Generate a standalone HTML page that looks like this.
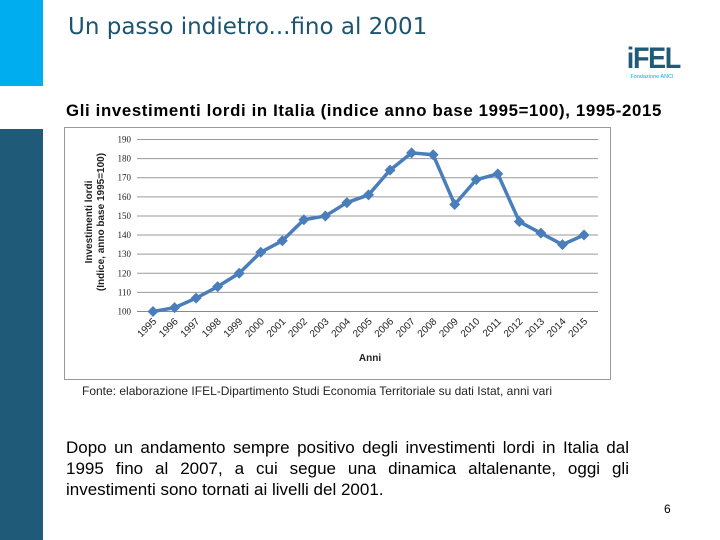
<!DOCTYPE html>
<html><head><meta charset="utf-8"><style>
body{margin:0;width:720px;height:540px;background:#fff;position:relative;overflow:hidden;font-family:"Liberation Sans",sans-serif}
.abs{position:absolute}
.jl{text-align:justify;text-align-last:justify;white-space:nowrap}
</style></head><body>
<div class="abs" style="left:0;top:0;width:43px;height:86px;background:#00aeef"></div>
<div class="abs" style="left:0;top:129px;width:43px;height:411px;background:#1f5a78"></div>
<div class="abs" style="left:68px;top:14px;font-size:23px;color:#1c5570;font-family:'DejaVu Sans',sans-serif">Un passo indietro...fino al 2001</div>
<div class="abs" style="left:624px;top:44px;width:56px;text-align:center;color:#1f5a78">
<div style="font-size:30px;font-weight:bold;line-height:30px;letter-spacing:-1.5px;transform:scaleX(0.9)">iFEL</div>
<div style="font-size:5.5px;color:#00aeef;white-space:nowrap">Fondazione ANCI</div></div>
<div class="abs" style="left:66px;top:101px;font-size:16.8px;letter-spacing:0.65px;font-weight:bold;color:#000;white-space:nowrap">Gli investimenti lordi in Italia (indice anno base 1995=100), 1995-2015</div>
<div class="abs" style="left:64px;top:127px;width:545px;height:251px;border:1px solid #999"></div>
<svg class="abs" style="left:0;top:0" width="720" height="540" id="chart"></svg>
<div class="abs" style="left:82px;top:384px;font-size:12px;color:#222">Fonte: elaborazione IFEL-Dipartimento Studi Economia Territoriale su dati Istat, anni vari</div>
<div class="abs" style="left:66px;top:437px;width:563px;font-size:17px;line-height:21px;color:#000">
<div class="jl">Dopo un andamento sempre positivo degli investimenti lordi in Italia dal</div>
<div class="jl">1995 fino al 2007, a cui segue una dinamica altalenante, oggi gli</div>
<div>investimenti sono tornati ai livelli del 2001.</div></div>
<div class="abs" style="left:664px;top:502px;font-size:12px">6</div>
<script>
const years=["1995","1996","1997","1998","1999","2000","2001","2002","2003","2004","2005","2006","2007","2008","2009","2010","2011","2012","2013","2014","2015"];
const values=[100,102,107,113,120,131,137,148,150,157,161,174,183,182,156,169,172,147,141,135,140];
const yTicks=[100,110,120,130,140,150,160,170,180,190];
const NS="http://www.w3.org/2000/svg",svg=document.getElementById('chart');
const x=i=>153+i*(584-153)/(years.length-1);
const y=v=>311.5-(v-100)*(311.5-139.5)/90;
function mk(t,a){const e=document.createElementNS(NS,t);for(const k in a)e.setAttribute(k,a[k]);svg.appendChild(e);return e;}
yTicks.forEach(t=>{
 const l=mk('line',{x1:137,x2:598,y1:y(t),y2:y(t),stroke:t===100?'#888':'#9a9a9a','stroke-width':1});
 
 
 const tx=mk('text',{x:131,y:y(t)+3,'text-anchor':'end','font-size':9,'font-family':'Liberation Serif, serif',fill:'#222'});tx.textContent=t;
 
 
});
years.forEach((yr,i)=>{
 const tx=mk('text',{x:x(i)+4,y:322,'text-anchor':'end','font-size':10,'font-family':'Liberation Sans, sans-serif',fill:'#222',transform:`rotate(-45 ${x(i)+4} 322)`});tx.textContent=yr;
 
 
});
const pl=mk('polyline',{points:values.map((v,i)=>x(i)+','+y(v)).join(' '),fill:'none',stroke:'#4a7ebb','stroke-width':3.5,'stroke-linejoin':'round'});


values.forEach((v,i)=>{
 const cx=x(i),cy=y(v),r=5.5;
 const p=mk('polygon',{points:`${cx},${cy-r} ${cx+r},${cy} ${cx},${cy+r} ${cx-r},${cy}`,fill:'#4a7ebb'});
 
 
});
const yt=mk('text',{x:0,y:0,'text-anchor':'middle','font-size':10,'font-weight':'bold',fill:'#222',transform:'translate(92 222) rotate(-90)'});
yt.textContent='Investimenti lordi';


const yt2=mk('text',{x:0,y:0,'text-anchor':'middle','font-size':10,'font-weight':'bold',fill:'#222',transform:'translate(104 222) rotate(-90)'});
yt2.textContent='(Indice, anno base 1995=100)';


const xt=mk('text',{x:370,y:361,'text-anchor':'middle','font-size':10,'font-weight':'bold',fill:'#222'});
xt.textContent='Anni';


</script>
</body></html>
